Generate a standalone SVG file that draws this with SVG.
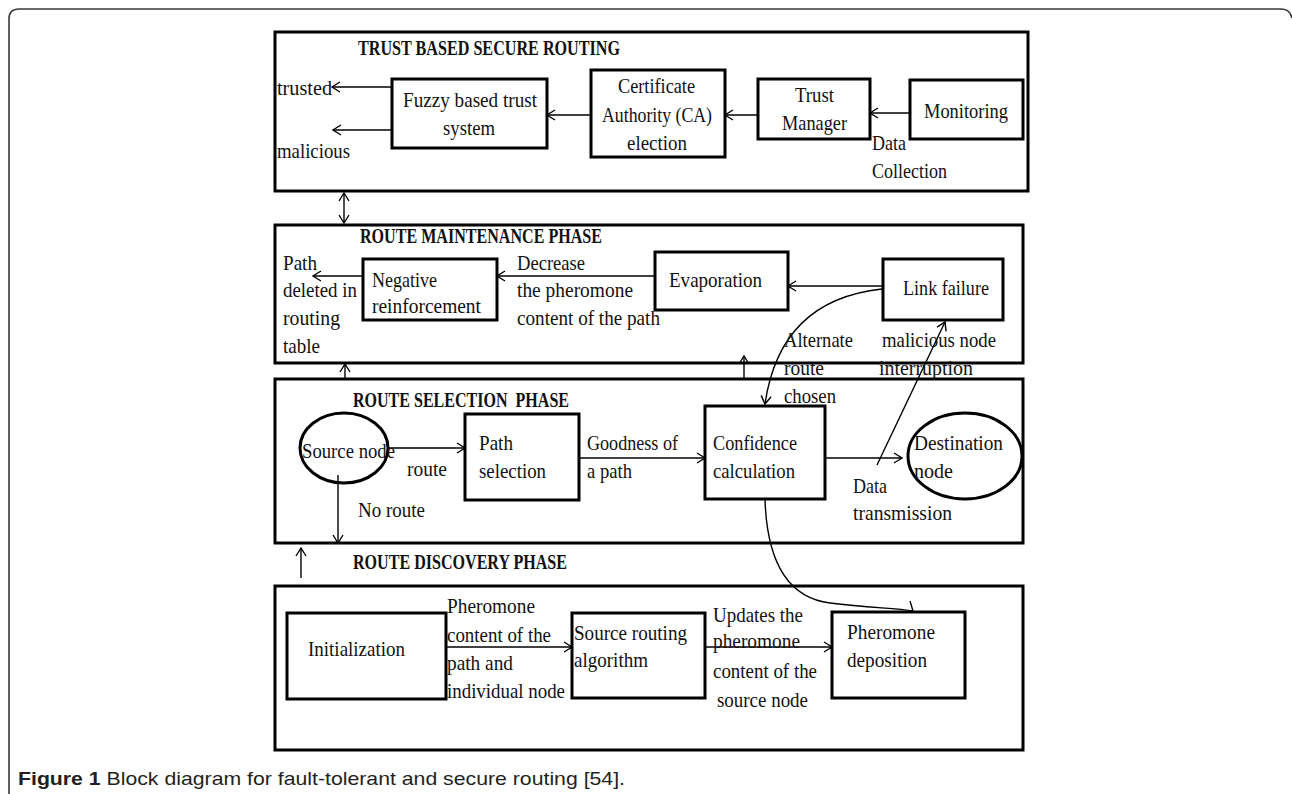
<svg xmlns="http://www.w3.org/2000/svg" width="1292" height="794" viewBox="0 0 1292 794">
  <defs>
    <marker id="arr" markerUnits="userSpaceOnUse" markerWidth="14" markerHeight="14" viewBox="-11 -7 14 14" refX="0" refY="0" orient="auto-start-reverse">
      <path d="M -8 -5 L 0 0 L -8 5" fill="none" stroke="#000" stroke-width="1.4"/>
    </marker>
    <style>
      .outer{fill:none;stroke:#3a3a3a;stroke-width:1.6}
      .frame{fill:none;stroke:#000;stroke-width:3}
      .box{fill:#fff;stroke:#000;stroke-width:3}
      .oval{fill:none;stroke:#000;stroke-width:3}
      .ln{fill:none;stroke:#000;stroke-width:1.4}
      .a{marker-end:url(#arr)}
      .aa{marker-start:url(#arr);marker-end:url(#arr)}
      text{font-family:"Liberation Serif","Times New Roman",serif;fill:#111}
      .t{font-size:21px}
      .h{font-size:22px;font-weight:bold}
      .cap{font-family:"Liberation Sans",Arial,sans-serif;font-size:19px;fill:#231f20}
    </style>
  </defs>

  <rect width="1292" height="794" fill="#fff"/>
  <!-- page border, open at the bottom -->
  <path class="outer" d="M 9 794 V 19 Q 9 9 19 9 H 1281 Q 1290 9 1292 18"/>

  <!-- phase containers -->
  <g id="phase-trust">
    <rect class="frame" x="275" y="32" width="753" height="159"/>
    <text class="h" x="358" y="55" textLength="262" lengthAdjust="spacingAndGlyphs">TRUST BASED SECURE ROUTING</text>
  </g>
  <g id="phase-maintenance">
    <rect class="frame" x="275" y="225" width="748" height="138"/>
    <text class="h" x="360" y="243" textLength="242" lengthAdjust="spacingAndGlyphs">ROUTE MAINTENANCE PHASE</text>
  </g>
  <g id="phase-selection">
    <rect class="frame" x="275" y="379" width="748" height="164"/>
    <text class="h" x="353" y="407" textLength="216" lengthAdjust="spacingAndGlyphs" xml:space="preserve">ROUTE SELECTION  PHASE</text>
  </g>
  <g id="phase-discovery">
    <rect class="frame" x="275" y="586" width="748" height="164"/>
    <text class="h" x="353" y="569" textLength="214" lengthAdjust="spacingAndGlyphs">ROUTE DISCOVERY PHASE</text>
  </g>

  <!-- connectors -->
  <g id="connectors">
    <line class="ln a" x1="392" y1="87" x2="332" y2="87"/>
    <line class="ln a" x1="392" y1="130" x2="333" y2="130"/>
    <line class="ln a" x1="591" y1="115" x2="547" y2="115"/>
    <line class="ln a" x1="758" y1="115" x2="725" y2="115"/>
    <line class="ln a" x1="910" y1="113" x2="870" y2="113"/>
    <line class="ln aa" x1="344" y1="193" x2="344" y2="223"/>

    <line class="ln a" x1="363" y1="276" x2="313" y2="276"/>
    <line class="ln a" x1="655" y1="276" x2="497" y2="276"/>
    <line class="ln a" x1="883" y1="286" x2="788" y2="286"/>
    <path class="ln a" d="M 882 289 Q 780 300 765 404"/>
    <line class="ln a" x1="345" y1="378" x2="345" y2="364"/>
    <line class="ln a" x1="744" y1="378" x2="744" y2="356"/>
    <line class="ln a" x1="877" y1="465" x2="945" y2="322"/>

    <line class="ln a" x1="388" y1="448" x2="465" y2="448"/>
    <line class="ln a" x1="579" y1="458" x2="705" y2="458"/>
    <line class="ln a" x1="825" y1="458" x2="902" y2="458"/>
    <line class="ln a" x1="338" y1="475" x2="338" y2="543"/>
    <line class="ln a" x1="301" y1="578" x2="301" y2="548"/>

    <line class="ln a" x1="446" y1="647" x2="572" y2="647"/>
    <line class="ln a" x1="705" y1="647" x2="832" y2="647"/>
    <path class="ln" d="M 765 499 C 767 565 790 598 830 603 S 895 608 913 611"/>
    <line class="ln" x1="910" y1="601" x2="913" y2="611"/>
  </g>

  <!-- trust based secure routing -->
  <g id="fuzzy">
    <rect class="box" x="392" y="79" width="155" height="69"/>
    <text class="t" x="403" y="107" textLength="134" lengthAdjust="spacingAndGlyphs">Fuzzy based trust</text>
    <text class="t" x="443" y="135" textLength="52" lengthAdjust="spacingAndGlyphs">system</text>
  </g>
  <g id="ca-election">
    <rect class="box" x="591" y="70" width="134" height="87"/>
    <text class="t" x="618" y="93" textLength="77" lengthAdjust="spacingAndGlyphs">Certificate</text>
    <text class="t" x="602" y="122" textLength="110" lengthAdjust="spacingAndGlyphs">Authority (CA)</text>
    <text class="t" x="627" y="150" textLength="60" lengthAdjust="spacingAndGlyphs">election</text>
  </g>
  <g id="trust-manager">
    <rect class="box" x="758" y="79" width="112" height="60"/>
    <text class="t" x="795" y="102" textLength="39" lengthAdjust="spacingAndGlyphs">Trust</text>
    <text class="t" x="782" y="130" textLength="65" lengthAdjust="spacingAndGlyphs">Manager</text>
  </g>
  <g id="monitoring">
    <rect class="box" x="910" y="80" width="113" height="59"/>
    <text class="t" x="924" y="118" textLength="84" lengthAdjust="spacingAndGlyphs">Monitoring</text>
  </g>
  <g id="labels-trust">
    <text class="t" x="277" y="95" textLength="55" lengthAdjust="spacingAndGlyphs">trusted</text>
    <text class="t" x="277" y="158" textLength="73" lengthAdjust="spacingAndGlyphs">malicious</text>
    <text class="t" x="872" y="150" textLength="34" lengthAdjust="spacingAndGlyphs">Data</text>
    <text class="t" x="872" y="178" textLength="75" lengthAdjust="spacingAndGlyphs">Collection</text>
  </g>

  <!-- route maintenance -->
  <g id="negative-reinforcement">
    <rect class="box" x="363" y="259" width="134" height="61"/>
    <text class="t" x="372" y="287" textLength="65" lengthAdjust="spacingAndGlyphs">Negative</text>
    <text class="t" x="372" y="313" textLength="109" lengthAdjust="spacingAndGlyphs">reinforcement</text>
  </g>
  <g id="evaporation">
    <rect class="box" x="655" y="252" width="133" height="58"/>
    <text class="t" x="669" y="287" textLength="93" lengthAdjust="spacingAndGlyphs">Evaporation</text>
  </g>
  <g id="link-failure">
    <rect class="box" x="883" y="259" width="120" height="61"/>
    <text class="t" x="903" y="295" textLength="86" lengthAdjust="spacingAndGlyphs">Link failure</text>
  </g>
  <g id="labels-maintenance">
    <text class="t" x="283" y="270" textLength="34" lengthAdjust="spacingAndGlyphs">Path</text>
    <text class="t" x="283" y="297" textLength="74" lengthAdjust="spacingAndGlyphs">deleted in</text>
    <text class="t" x="283" y="325" textLength="57" lengthAdjust="spacingAndGlyphs">routing</text>
    <text class="t" x="283" y="353" textLength="37" lengthAdjust="spacingAndGlyphs">table</text>
    <text class="t" x="517" y="270" textLength="68" lengthAdjust="spacingAndGlyphs">Decrease</text>
    <text class="t" x="517" y="297" textLength="116" lengthAdjust="spacingAndGlyphs">the pheromone</text>
    <text class="t" x="517" y="325" textLength="143" lengthAdjust="spacingAndGlyphs">content of the path</text>
    <text class="t" x="784" y="347" textLength="69" lengthAdjust="spacingAndGlyphs">Alternate</text>
    <text class="t" x="784" y="375" textLength="40" lengthAdjust="spacingAndGlyphs">route</text>
    <text class="t" x="784" y="403" textLength="52" lengthAdjust="spacingAndGlyphs">chosen</text>
    <text class="t" x="882" y="347" textLength="114" lengthAdjust="spacingAndGlyphs">malicious node</text>
    <text class="t" x="879" y="375" textLength="94" lengthAdjust="spacingAndGlyphs">interruption</text>
  </g>

  <!-- route selection -->
  <g id="source-node">
    <ellipse class="oval" cx="344" cy="448" rx="44" ry="35"/>
    <text class="t" x="302" y="458" textLength="93" lengthAdjust="spacingAndGlyphs">Source node</text>
  </g>
  <g id="path-selection">
    <rect class="box" x="465" y="414" width="114" height="86"/>
    <text class="t" x="479" y="450" textLength="34" lengthAdjust="spacingAndGlyphs">Path</text>
    <text class="t" x="479" y="478" textLength="67" lengthAdjust="spacingAndGlyphs">selection</text>
  </g>
  <g id="confidence">
    <rect class="box" x="705" y="406" width="120" height="93"/>
    <text class="t" x="713" y="450" textLength="84" lengthAdjust="spacingAndGlyphs">Confidence</text>
    <text class="t" x="713" y="478" textLength="82" lengthAdjust="spacingAndGlyphs">calculation</text>
  </g>
  <g id="destination-node">
    <ellipse class="oval" cx="965" cy="456" rx="57" ry="43"/>
    <text class="t" x="914" y="450" textLength="89" lengthAdjust="spacingAndGlyphs">Destination</text>
    <text class="t" x="914" y="478" textLength="39" lengthAdjust="spacingAndGlyphs">node</text>
  </g>
  <g id="labels-selection">
    <text class="t" x="407" y="476" textLength="40" lengthAdjust="spacingAndGlyphs">route</text>
    <text class="t" x="587" y="450" textLength="91" lengthAdjust="spacingAndGlyphs">Goodness of</text>
    <text class="t" x="587" y="478" textLength="45" lengthAdjust="spacingAndGlyphs">a path</text>
    <text class="t" x="853" y="493" textLength="34" lengthAdjust="spacingAndGlyphs">Data</text>
    <text class="t" x="853" y="520" textLength="99" lengthAdjust="spacingAndGlyphs">transmission</text>
    <text class="t" x="358" y="517" textLength="67" lengthAdjust="spacingAndGlyphs">No route</text>
  </g>

  <!-- route discovery -->
  <g id="initialization">
    <rect class="box" x="287" y="613" width="159" height="86"/>
    <text class="t" x="308" y="656" textLength="97" lengthAdjust="spacingAndGlyphs">Initialization</text>
  </g>
  <g id="source-routing">
    <rect class="box" x="572" y="613" width="133" height="85"/>
    <text class="t" x="574" y="640" textLength="113" lengthAdjust="spacingAndGlyphs">Source routing</text>
    <text class="t" x="574" y="667" textLength="74" lengthAdjust="spacingAndGlyphs">algorithm</text>
  </g>
  <g id="pheromone-deposition">
    <rect class="box" x="832" y="612" width="133" height="86"/>
    <text class="t" x="847" y="639" textLength="88" lengthAdjust="spacingAndGlyphs">Pheromone</text>
    <text class="t" x="847" y="667" textLength="80" lengthAdjust="spacingAndGlyphs">deposition</text>
  </g>
  <g id="labels-discovery">
    <text class="t" x="447" y="613" textLength="88" lengthAdjust="spacingAndGlyphs">Pheromone</text>
    <text class="t" x="447" y="642" textLength="104" lengthAdjust="spacingAndGlyphs">content of the</text>
    <text class="t" x="447" y="670" textLength="66" lengthAdjust="spacingAndGlyphs">path and</text>
    <text class="t" x="447" y="698" textLength="118" lengthAdjust="spacingAndGlyphs">individual node</text>
    <text class="t" x="713" y="622" textLength="90" lengthAdjust="spacingAndGlyphs">Updates the</text>
    <text class="t" x="713" y="648" textLength="87" lengthAdjust="spacingAndGlyphs">pheromone</text>
    <text class="t" x="713" y="678" textLength="104" lengthAdjust="spacingAndGlyphs">content of the</text>
    <text class="t" x="717" y="707" textLength="91" lengthAdjust="spacingAndGlyphs">source node</text>
  </g>

  <!-- caption -->
  <text class="cap" x="18" y="785" textLength="607" lengthAdjust="spacingAndGlyphs"><tspan font-weight="bold">Figure 1</tspan> Block diagram for fault-tolerant and secure routing [54].</text>
</svg>
